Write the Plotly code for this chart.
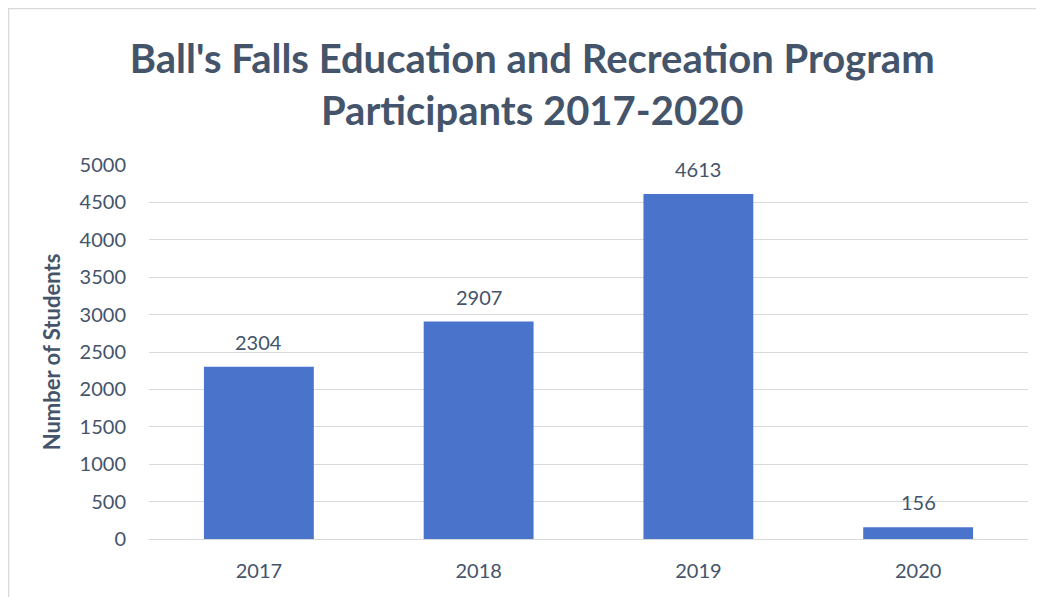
import plotly.graph_objects as go

years = ["2017", "2018", "2019", "2020"]
students = [2304, 2907, 4613, 156]
y_ticks = [0, 500, 1000, 1500, 2000, 2500, 3000, 3500, 4000, 4500, 5000]

txt = "#44546A"
fig = go.Figure(go.Bar(
    x=years, y=students,
    marker=dict(color="#4A74CC", line=dict(width=0)),
    hoverinfo="x+y",
))

# data labels: category index positions on the category axis
annotations = [
    dict(x=i, y=v, text=str(v), xref="x", yref="y", showarrow=False,
         yanchor="middle", yshift=25, font=dict(size=20, color=txt, family="Lato"))
    for i, v in enumerate(students)
]

fig.update_layout(
    width=1036, height=589,
    margin=dict(l=141, r=16, t=157, b=58),
    paper_bgcolor="white", plot_bgcolor="white",
    bargap=0.5,
    showlegend=False,
    font=dict(family="Lato", color=txt),
    title=dict(
        text="<b>Ball's Falls Education and Recreation Program<br>Participants 2017-2020</b>",
        x=0.506, xanchor="center", y=0.889, yanchor="top",
        font=dict(size=40, color=txt, family="Lato"),
    ),
    xaxis=dict(type="category", showgrid=False, showline=False, ticks="",
               ticklabelstandoff=18,
               tickfont=dict(size=20, color=txt)),
    yaxis=dict(range=[0, 5000], tickvals=y_ticks, showgrid=True,
               gridcolor="#D9D9D9", gridwidth=1, zeroline=True,
               zerolinecolor="#D9D9D9", zerolinewidth=1,
               ticks="", ticklabelstandoff=22,
               tickfont=dict(size=20, color=txt),
               title=dict(text="<b>Number of Students</b>", standoff=12,
                          font=dict(size=22, color=txt))),
    annotations=annotations,
    shapes=[dict(type="rect", xref="paper", yref="paper",
                 x0=-0.1598, x1=1.2, y0=-0.3, y1=1.4185,
                 line=dict(color="#D9D9D9", width=1.5), layer="below")],
)

fig.write_html("out.html")
